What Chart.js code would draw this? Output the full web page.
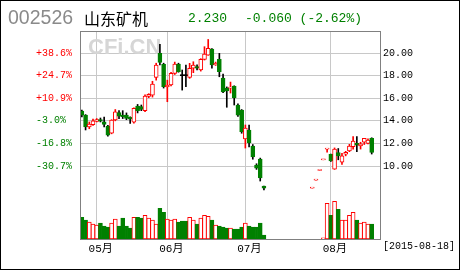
<!DOCTYPE html>
<html lang="zh">
<head>
<meta charset="utf-8">
<title>002526 山东矿机</title>
<script src="https://cdn.jsdelivr.net/npm/chart.js@4.4.1/dist/chart.umd.min.js"></script>
<style>
    html, body { margin: 0; padding: 0; background: #fff; }
    #myChart { display: block; }
</style>
</head>
<body>
<canvas id="myChart" width="460" height="270"></canvas>
<script>
// Données (une valeur par séance, null = suspension)
const ouverture = [14.87, 14.51, 13.45, 13.65, 13.95, 14.12, 13.92, 13.54, 12.90, 14.07,
    14.72, 14.50, 14.50, 14.30, 13.87, 15.30, 15.25, 14.90, 16.15, 16.28,
    17.85, 19.97, 19.00, 16.99, 17.17, 18.20, 19.03, 18.00, 18.00, 17.85,
    18.65, 18.80, 18.50, 19.44, 19.82, 20.35, 18.94, 19.44, 17.79, 16.90,
    16.90, 17.08, 15.40, 14.96, 12.40, 13.19, 11.77, 10.09, 10.62, 8.23,
    null, null, null, null, null, null, null, null, null, null, null, null,
    8.05, 8.75, 9.60, 10.55, 11.50, 11.04, 9.71, 11.20, 10.33, 11.04,
    11.33, 11.71, 12.00, 11.77, 12.10, 12.00, 12.45];
const plusHaut = [14.96, 14.55, 13.90, 14.15, 14.20, 14.25, 14.34, 13.60, 14.10, 15.00,
    14.90, 14.90, 14.70, 14.35, 15.15, 15.45, 15.40, 16.30, 16.40, 17.50,
    19.10, 20.77, 19.10, 17.60, 18.30, 19.20, 19.10, 18.50, 18.94, 19.09,
    19.23, 18.95, 19.50, 20.56, 21.20, 20.40, 19.20, 19.97, 18.14, 17.00,
    17.43, 17.10, 15.50, 15.00, 13.63, 13.63, 11.90, 10.20, 10.70, 8.23,
    null, null, null, null, null, null, null, null, null, null, null, null,
    8.05, 8.75, 9.60, 10.55, 11.50, 11.05, 11.60, 11.55, 11.12, 11.30,
    11.92, 12.60, 12.60, 12.10, 12.45, 12.40, 12.50];
const plusBas = [14.34, 13.19, 13.30, 13.60, 13.90, 13.90, 13.45, 12.65, 12.85, 14.00,
    14.20, 14.20, 14.10, 13.78, 13.80, 14.70, 14.90, 14.80, 16.05, 16.10,
    17.60, 18.94, 16.90, 15.69, 17.10, 18.10, 18.30, 16.72, 17.02, 17.76,
    18.26, 18.50, 18.40, 19.38, 19.80, 18.65, 18.90, 17.90, 16.50, 15.20,
    16.46, 15.40, 14.40, 12.90, 11.59, 11.68, 10.60, 9.70, 8.67, 7.88,
    null, null, null, null, null, null, null, null, null, null, null, null,
    8.05, 8.75, 9.60, 10.55, 11.23, 10.40, 9.70, 10.55, 10.15, 10.90,
    11.27, 11.50, 11.28, 11.50, 11.90, 11.95, 11.06];
const cloture = [14.51, 13.45, 13.72, 14.00, 14.12, 13.98, 13.69, 12.74, 14.07, 14.80,
    14.42, 14.36, 14.22, 14.15, 15.10, 14.90, 15.00, 16.20, 16.35, 17.26,
    18.94, 19.17, 17.02, 17.17, 18.20, 19.03, 18.35, 18.00, 18.00, 18.65,
    18.94, 18.65, 19.44, 19.91, 20.41, 18.94, 19.09, 18.35, 16.55, 16.64,
    16.99, 16.02, 14.50, 13.04, 13.36, 12.04, 10.80, 9.82, 8.94, 8.05,
    null, null, null, null, null, null, null, null, null, null, null, null,
    8.05, 8.75, 9.60, 10.55, 11.50, 10.44, 11.50, 10.90, 10.90, 11.21,
    11.77, 12.21, 11.85, 11.97, 12.45, 12.30, 11.21];
// Volume (万手)
const volume = [22, 19, 17, 15, 14, 16, 13, 12, 16, 20,
    13, 21, 13, 11, 22, 22, 21, 24, 21, 19,
    15, 31, 27, 20, 19, 20, 17, 18, 18, 22,
    19, 15, 21, 24, 23, 19, 14, 13, 12, 11,
    11, 10, 10, 12, 16, 13, 12, 12, 16, 4,
    null, null, null, null, null, null, null, null, null, null, null, null,
    0, 0, 0, 1.3, 36, 24, 38, 30, 19, 19,
    24, 27, 19, 16, 17, 15, 15];

const moisLabels = ['05月', '06月', '07月', '08月'];
const moisDebut = [4, 23, 44, 67];       // index de la première séance du mois
const prixTicks = [10, 12, 14, 16, 18, 20];
const prixBase = 14.43;                  // clôture de référence pour les %
const nbJours = 81;                      // nombre de cases sur l'axe

const ROUGE = '#ff0000';
const VERT = '#008000';

// Sens de chaque bougie : hausse, baisse ou neutre
function sensBougie(i) {
    const o = ouverture[i];
    const c = cloture[i];
    if (o == null) return null;
    if (c > o) return 'hausse';
    if (c < o) return 'baisse';
    let prec = null;
    for (let j = i - 1; j >= 0; j--) {
        if (cloture[j] != null) { prec = cloture[j]; break; }
    }
    if (plusHaut[i] === plusBas[i] || (prec != null && c > prec)) return 'hausse';
    return 'neutre';
}

const sens = ouverture.map((o, i) => sensBougie(i));

const corps = ouverture.map((o, i) => o == null ? null : [o, cloture[i]]);
const meches = plusBas.map((l, i) => l == null ? null : [l, plusHaut[i]]);

const fondCorps = sens.map(s => s === 'hausse' ? '#ffffff' : (s === 'baisse' ? VERT : '#000000'));
const bordCorps = sens.map(s => s === 'hausse' ? ROUGE : (s === 'baisse' ? VERT : '#000000'));
const couleurMeche = sens.map(s => s === 'hausse' ? ROUGE : '#000000');
const fondVolume = sens.map(s => s === 'hausse' ? '#ffffff' : VERT);
const bordVolume = sens.map(s => s === 'hausse' ? ROUGE : VERT);

const labels = Array.from({ length: nbJours }, (_, i) => String(i));

const fontMono = "'Liberation Mono', 'Noto Sans CJK SC', monospace";

const decor = {
    id: 'decor',
    beforeDraw(chart) {
        const ctx = chart.ctx;
        ctx.save();
        ctx.fillStyle = '#ffffff';
        ctx.fillRect(0, 0, chart.width, chart.height);
        ctx.restore();
    },
    beforeDatasetsDraw(chart) {
        const ctx = chart.ctx;
        ctx.save();
        ctx.font = "bold 22px 'Liberation Sans', Arial, sans-serif";
        ctx.fillStyle = '#d6d6d6';
        ctx.textBaseline = 'middle';
        ctx.fillText('CFi.CN', 88, 48);
        ctx.restore();
    },
    afterDraw(chart) {
        const ctx = chart.ctx;
        const a = chart.chartArea;
        ctx.save();
        // cadre du graphique
        ctx.strokeStyle = '#808080';
        ctx.lineWidth = 1;
        ctx.strokeRect(Math.round(a.left) + 0.5, Math.round(a.top) + 0.5,
            Math.round(a.right - a.left) - 1, Math.round(a.bottom - a.top));
        // bordure de l'image
        ctx.strokeStyle = '#000000';
        ctx.strokeRect(0.5, 0.5, chart.width - 1, chart.height - 1);

        // titre
        ctx.textBaseline = 'middle';
        ctx.font = "19.5px 'Liberation Sans', Arial, sans-serif";
        ctx.fillStyle = '#8a8a8a';
        ctx.fillText('002526', 8, 19);
        ctx.font = "16px 'Noto Sans CJK SC', sans-serif";
        ctx.fillStyle = '#000000';
        ctx.fillText('山东矿机', 84, 19);
        ctx.font = "13px 'Liberation Mono', monospace";
        ctx.fillStyle = VERT;
        ctx.fillText('2.230', 188, 19);
        ctx.fillText('-0.060 (-2.62%)', 245, 19);

        // date
        ctx.font = "10px 'Liberation Mono', monospace";
        ctx.fillStyle = '#000000';
        ctx.fillText('[2015-08-18]', 383, 246);
        ctx.restore();
    }
};

const ctx = document.getElementById('myChart').getContext('2d');
const myChart = new Chart(ctx, {
    type: 'bar',
    data: {
        labels: labels,
        datasets: [
            {
                label: 'corps',
                data: corps,
                yAxisID: 'yP',
                backgroundColor: fondCorps,
                borderColor: bordCorps,
                borderWidth: 1,
                borderSkipped: false,
                barThickness: 4,
                minBarLength: 1,
                grouped: false,
                order: 0
            },
            {
                label: 'meches',
                data: meches,
                yAxisID: 'yP',
                backgroundColor: couleurMeche,
                borderWidth: 0,
                barThickness: 1,
                grouped: false,
                order: 1
            },
            {
                label: 'volume',
                data: volume,
                yAxisID: 'yV',
                backgroundColor: fondVolume,
                borderColor: bordVolume,
                borderWidth: 1,
                borderSkipped: false,
                barThickness: 4,
                grouped: false,
                order: 2
            }
        ]
    },
    options: {
        responsive: false,
        animation: false,
        devicePixelRatio: 1,
        layout: { padding: { left: 36, right: 0, top: 31, bottom: 0 } },
        plugins: {
            legend: { display: false },
            title: { display: false },
            tooltip: { enabled: false }
        },
        scales: {
            x: {
                type: 'category',
                offset: true,
                grid: { offset: false, color: '#c8c8c8', drawTicks: false },
                border: { display: false },
                afterBuildTicks: (s) => { s.ticks = moisDebut.map(v => ({ value: v })); },
                afterFit: (s) => { s.height = 31; },
                ticks: {
                    autoSkip: false,
                    maxRotation: 0,
                    padding: 3,
                    labelOffset: 4,
                    color: '#000000',
                    font: { family: fontMono, size: 11 },
                    callback: (v) => moisLabels[moisDebut.indexOf(v)]
                }
            },
            yL: {
                type: 'linear',
                position: 'left',
                min: 3.54,
                max: 21.95,
                grid: { display: false, drawTicks: false },
                border: { display: false },
                afterBuildTicks: (s) => { s.ticks = prixTicks.map(v => ({ value: v })); },
                afterFit: (s) => { s.width = 44; },
                ticks: {
                    crossAlign: 'far',
                    padding: 0,
                    font: { family: fontMono, size: 10 },
                    color: (c) => c.tick && c.tick.value >= prixBase ? ROUGE : VERT,
                    callback: (v) => {
                        const pct = (v / prixBase - 1) * 100;
                        return (pct >= 0 ? '+' : '') + pct.toFixed(1) + '%';
                    }
                }
            },
            yP: {
                type: 'linear',
                position: 'right',
                min: 3.54,
                max: 21.95,
                grid: { color: '#c8c8c8', drawTicks: false },
                border: { display: false },
                afterBuildTicks: (s) => { s.ticks = prixTicks.map(v => ({ value: v })); },
                afterFit: (s) => { s.width = 79; },
                ticks: {
                    padding: 2,
                    color: '#000000',
                    font: { family: fontMono, size: 10 },
                    callback: (v) => v.toFixed(2)
                }
            },
            yV: {
                type: 'linear',
                display: false,
                min: 0,
                max: 210
            }
        }
    },
    plugins: [decor]
});
</script>
</body>
</html>
